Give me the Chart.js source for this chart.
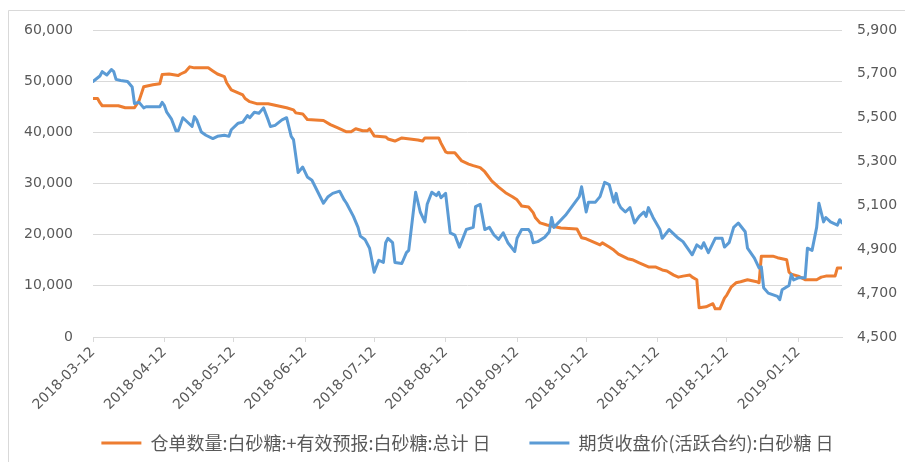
<!DOCTYPE html>
<html>
<head>
<meta charset="utf-8">
<script src="https://cdn.jsdelivr.net/npm/chart.js@4/dist/chart.umd.min.js"></script>
<style>
  html, body { margin: 0; padding: 0; background: #ffffff; }
  #wrap { width: 905px; height: 462px; position: relative; }
</style>
</head>
<body>
<div id="wrap"><canvas id="c" width="905" height="462"></canvas></div>
<script>
const seriesNames = ['仓单数量:白砂糖:+有效预报:白砂糖:总计 日', '期货收盘价(活跃合约):白砂糖 日'];
const tickLabels = ['2018-03-12','2018-04-12','2018-05-12','2018-06-12','2018-07-12','2018-08-12','2018-09-12','2018-10-12','2018-11-12','2018-12-12','2019-01-12'];
const axisStart = '2018-03-12';
const axisEnd = '2019-01-31';

const orangeDates = ['2018-03-12','2018-03-14','2018-03-15','2018-03-16','2018-03-23','2018-03-26','2018-03-30','2018-04-01','2018-04-03','2018-04-07','2018-04-10','2018-04-11','2018-04-14','2018-04-18','2018-04-19','2018-04-21','2018-04-23','2018-04-25','2018-05-01','2018-05-03','2018-05-05','2018-05-08','2018-05-09','2018-05-11','2018-05-14','2018-05-16','2018-05-17','2018-05-19','2018-05-22','2018-05-27','2018-05-31','2018-06-04','2018-06-07','2018-06-08','2018-06-11','2018-06-13','2018-06-20','2018-06-23','2018-06-26','2018-06-30','2018-07-02','2018-07-04','2018-07-07','2018-07-09','2018-07-10','2018-07-12','2018-07-17','2018-07-18','2018-07-21','2018-07-24','2018-07-31','2018-08-02','2018-08-03','2018-08-09','2018-08-10','2018-08-12','2018-08-13','2018-08-16','2018-08-19','2018-08-22','2018-08-24','2018-08-27','2018-08-29','2018-09-01','2018-09-04','2018-09-07','2018-09-10','2018-09-12','2018-09-14','2018-09-17','2018-09-19','2018-09-20','2018-09-22','2018-09-25','2018-10-01','2018-10-08','2018-10-10','2018-10-12','2018-10-15','2018-10-18','2018-10-19','2018-10-22','2018-10-24','2018-10-26','2018-10-30','2018-11-01','2018-11-04','2018-11-06','2018-11-08','2018-11-11','2018-11-14','2018-11-16','2018-11-19','2018-11-21','2018-11-23','2018-11-26','2018-11-27','2018-11-29','2018-11-30','2018-12-03','2018-12-06','2018-12-07','2018-12-09','2018-12-11','2018-12-12','2018-12-14','2018-12-16','2018-12-18','2018-12-21','2018-12-25','2018-12-26','2018-12-27','2019-01-01','2019-01-03','2019-01-07','2019-01-08','2019-01-09','2019-01-12','2019-01-15','2019-01-20','2019-01-22','2019-01-24','2019-01-28','2019-01-29','2019-01-31'];
const orangeValues = [46600,46600,45800,45200,45200,44800,44800,46200,48900,49300,49500,51300,51400,51100,51400,51800,52800,52600,52600,52000,51400,50900,49700,48300,47700,47300,46600,46000,45600,45600,45200,44800,44400,43800,43600,42500,42300,41500,40900,40100,40100,40700,40300,40300,40700,39300,39100,38700,38300,38900,38500,38300,38900,38900,37900,36200,36000,36000,34400,33800,33500,33100,32300,30500,29300,28200,27400,26800,25600,25400,24300,23300,22300,21900,21300,21100,19400,19200,18600,18000,18400,17600,17000,16200,15300,15100,14500,14100,13700,13700,13100,12900,12100,11700,11900,12100,11700,11200,5700,5900,6500,5500,5500,7600,8200,9800,10600,10800,11200,10800,10600,15800,15800,15500,15100,12700,12300,11900,11200,11200,11700,11900,11900,13500,13500];

const blueDates = ['2018-03-12','2018-03-15','2018-03-16','2018-03-18','2018-03-20','2018-03-21','2018-03-22','2018-03-24','2018-03-27','2018-03-29','2018-03-30','2018-04-01','2018-04-03','2018-04-04','2018-04-10','2018-04-11','2018-04-12','2018-04-13','2018-04-15','2018-04-17','2018-04-18','2018-04-20','2018-04-24','2018-04-25','2018-04-26','2018-04-28','2018-04-30','2018-05-03','2018-05-05','2018-05-08','2018-05-10','2018-05-11','2018-05-14','2018-05-16','2018-05-18','2018-05-19','2018-05-21','2018-05-23','2018-05-25','2018-05-27','2018-05-28','2018-05-30','2018-06-02','2018-06-04','2018-06-06','2018-06-07','2018-06-09','2018-06-11','2018-06-13','2018-06-15','2018-06-20','2018-06-22','2018-06-24','2018-06-27','2018-06-29','2018-06-30','2018-07-03','2018-07-05','2018-07-06','2018-07-08','2018-07-10','2018-07-12','2018-07-14','2018-07-16','2018-07-17','2018-07-18','2018-07-20','2018-07-21','2018-07-24','2018-07-26','2018-07-27','2018-07-30','2018-08-01','2018-08-03','2018-08-04','2018-08-06','2018-08-08','2018-08-09','2018-08-10','2018-08-12','2018-08-14','2018-08-16','2018-08-18','2018-08-21','2018-08-24','2018-08-25','2018-08-27','2018-08-29','2018-08-31','2018-09-02','2018-09-04','2018-09-06','2018-09-08','2018-09-11','2018-09-12','2018-09-14','2018-09-17','2018-09-18','2018-09-19','2018-09-21','2018-09-24','2018-09-26','2018-09-27','2018-09-28','2018-10-03','2018-10-09','2018-10-10','2018-10-12','2018-10-13','2018-10-16','2018-10-18','2018-10-20','2018-10-22','2018-10-24','2018-10-25','2018-10-26','2018-10-27','2018-10-29','2018-10-31','2018-11-02','2018-11-04','2018-11-06','2018-11-07','2018-11-08','2018-11-10','2018-11-13','2018-11-14','2018-11-17','2018-11-21','2018-11-23','2018-11-27','2018-11-29','2018-12-01','2018-12-02','2018-12-04','2018-12-07','2018-12-10','2018-12-11','2018-12-13','2018-12-15','2018-12-17','2018-12-20','2018-12-21','2018-12-24','2018-12-26','2018-12-27','2018-12-28','2018-12-30','2019-01-03','2019-01-04','2019-01-05','2019-01-08','2019-01-09','2019-01-10','2019-01-12','2019-01-15','2019-01-16','2019-01-18','2019-01-20','2019-01-21','2019-01-23','2019-01-24','2019-01-26','2019-01-29','2019-01-30','2019-01-31'];
const blueValues = [5665,5690,5710,5695,5720,5710,5675,5670,5665,5640,5565,5570,5545,5550,5550,5570,5555,5525,5495,5440,5440,5500,5460,5505,5490,5435,5420,5405,5415,5420,5415,5445,5475,5480,5510,5500,5525,5520,5545,5490,5460,5465,5490,5500,5415,5400,5250,5275,5230,5215,5110,5140,5155,5165,5125,5110,5050,5000,4960,4945,4905,4795,4850,4840,4930,4950,4930,4840,4835,4885,4895,5160,5070,5025,5105,5160,5145,5160,5135,5155,4975,4965,4910,4990,5000,5095,5105,4990,5000,4965,4945,4975,4930,4890,4950,4990,4990,4975,4930,4935,4955,4980,5045,5000,5055,5140,5185,5070,5115,5115,5140,5205,5195,5115,5155,5110,5090,5070,5090,5020,5050,5070,5050,5090,5045,4990,4950,4990,4950,4935,4875,4920,4905,4930,4885,4950,4950,4910,4930,5000,5020,4980,4905,4860,4815,4820,4725,4700,4685,4670,4715,4735,4785,4760,4770,4770,4905,4895,5000,5110,5025,5045,5025,5010,5035,5020];

const leftMin = 0, leftMax = 60000, leftStep = 10000;
const rightMin = 4500, rightMax = 5900, rightStep = 200;

function dayOf(s) {
  const b = axisStart.split('-').map(Number);
  const p = s.split('-').map(Number);
  return (Date.UTC(p[0], p[1] - 1, p[2]) - Date.UTC(b[0], b[1] - 1, b[2])) / 86400000;
}
function labelForDay(v) {
  const i = tickLabels.findIndex(t => dayOf(t) === v);
  return i >= 0 ? tickLabels[i] : '';
}
const fmt = v => Number(v).toLocaleString('en-US');

const framePlugin = {
  id: 'frame',
  afterLayout(chart) {
    const lg = chart.legend;
    if (lg) { lg.left += 15; lg.right += 15; }
    const xs = chart.scales.x;
    if (xs) { xs.bottom = chart.height; }
  },
  beforeDraw(chart) {
    const ctx = chart.ctx;
    ctx.save();
    ctx.fillStyle = '#ffffff';
    ctx.fillRect(0, 0, chart.width, chart.height);
    ctx.strokeStyle = '#d9d9d9';
    ctx.lineWidth = 1;
    ctx.beginPath();
    ctx.moveTo(8.5, chart.height + 2);
    ctx.lineTo(8.5, 10.5);
    ctx.lineTo(chart.width + 2, 10.5);
    ctx.stroke();
    ctx.restore();
  }
};

const tickFont = { family: 'DejaVu Sans', size: 14 };

new Chart(document.getElementById('c'), {
  type: 'line',
  data: {
    datasets: [
      {
        label: seriesNames[0],
        data: orangeDates.map((d, i) => ({ x: dayOf(d), y: orangeValues[i] })),
        yAxisID: 'yL',
        borderColor: '#ED7D31',
        backgroundColor: '#ED7D31',
        borderWidth: 3,
        pointRadius: 0,
        tension: 0,
        borderJoinStyle: 'round',
        borderCapStyle: 'round',
        order: 1
      },
      {
        label: seriesNames[1],
        data: blueDates.map((d, i) => ({ x: dayOf(d), y: blueValues[i] })),
        yAxisID: 'yR',
        borderColor: '#5B9BD5',
        backgroundColor: '#5B9BD5',
        borderWidth: 3,
        pointRadius: 0,
        tension: 0,
        borderJoinStyle: 'round',
        borderCapStyle: 'round',
        order: 0
      }
    ]
  },
  options: {
    responsive: false,
    animation: false,
    devicePixelRatio: 1,
    layout: { padding: { left: 0, right: 0, top: 30, bottom: 0 } },
    plugins: {
      tooltip: { enabled: false },
      legend: {
        position: 'bottom',
        labels: {
          sort: (a, b) => a.datasetIndex - b.datasetIndex,
          usePointStyle: true,
          pointStyle: 'line',
          pointStyleWidth: 40,
          boxHeight: 3,
          padding: 39,
          color: '#595959',
          font: { family: 'Noto Sans CJK SC', size: 18 }
        }
      }
    },
    scales: {
      x: {
        type: 'linear',
        min: dayOf(axisStart),
        max: dayOf(axisEnd),
        afterBuildTicks: s => { s.ticks = tickLabels.map(t => ({ value: dayOf(t) })); },
        afterFit: s => { s.height = 58; },
        ticks: {
          autoSkip: false,
          minRotation: 45,
          maxRotation: 45,
          padding: 2,
          color: '#595959',
          font: { family: 'DejaVu Sans', size: 14 },
          callback: v => labelForDay(v)
        },
        grid: { drawOnChartArea: false, drawTicks: true, tickLength: 5, color: '#d9d9d9' },
        border: { display: true, color: '#d9d9d9' }
      },
      yL: {
        position: 'left',
        min: leftMin,
        max: leftMax,
        afterFit: s => { s.width = 93; },
        ticks: { stepSize: leftStep, padding: 20, color: '#595959', font: tickFont, callback: v => fmt(v) },
        grid: { color: '#d9d9d9', drawTicks: false },
        border: { display: false }
      },
      yR: {
        position: 'right',
        min: rightMin,
        max: rightMax,
        afterFit: s => { s.width = 63; },
        ticks: { stepSize: rightStep, padding: 15, color: '#595959', font: tickFont, callback: v => fmt(v) },
        grid: { drawOnChartArea: false, drawTicks: false },
        border: { display: false }
      }
    }
  },
  plugins: [framePlugin]
});
</script>
</body>
</html>
